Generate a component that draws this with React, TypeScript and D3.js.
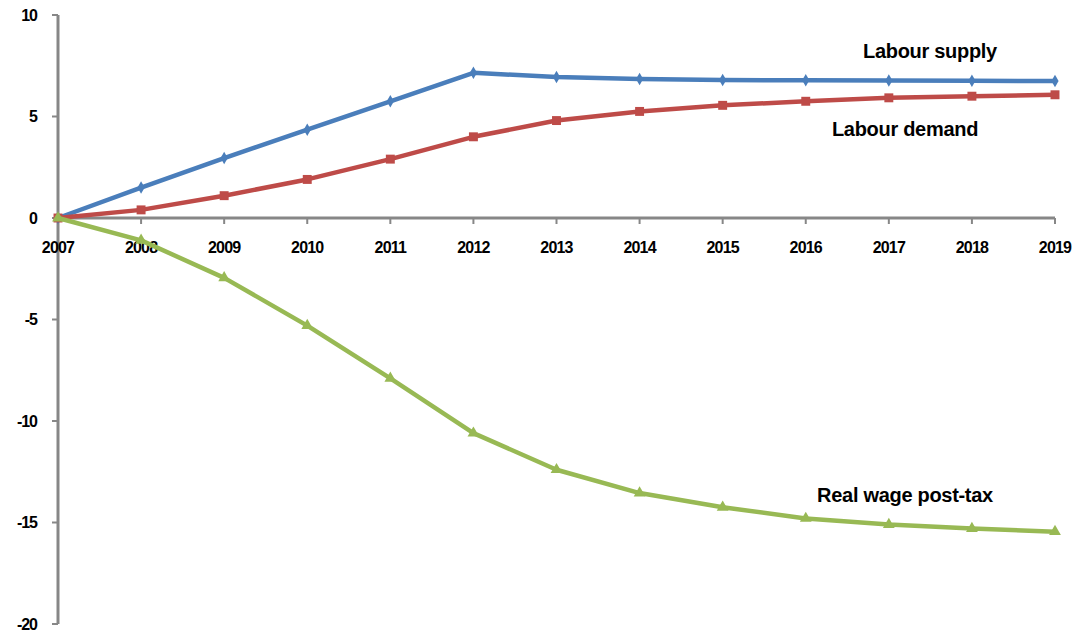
import * as d3 from 'd3';
import React, { useEffect, useRef } from 'react';

const years = [2007, 2008, 2009, 2010, 2011, 2012, 2013, 2014, 2015, 2016, 2017, 2018, 2019];
const labourSupply = [0, 1.5, 2.95, 4.35, 5.75, 7.15, 6.95, 6.85, 6.8, 6.78, 6.77, 6.76, 6.75];
const labourDemand = [0, 0.4, 1.1, 1.9, 2.9, 4.0, 4.8, 5.25, 5.55, 5.75, 5.92, 6.0, 6.07];
const realWage = [0, -1.1, -2.95, -5.3, -7.9, -10.6, -12.4, -13.55, -14.25, -14.8, -15.1, -15.3, -15.45];
const yTicks = [10, 5, 0, -5, -10, -15, -20];

const series = [
  { name: 'Labour supply', values: labourSupply, color: '#4a7ebb', marker: 'diamond', lx: 930, ly: 51 },
  { name: 'Labour demand', values: labourDemand, color: '#be4b48', marker: 'square', lx: 905, ly: 129 },
  { name: 'Real wage post-tax', values: realWage, color: '#98b954', marker: 'triangle', lx: 905, ly: 495 }
];

export default function App() {
  const svgRef = useRef<SVGSVGElement | null>(null);

  useEffect(() => {
    const width = 1080;
    const height = 636;
    const svg = d3.select(svgRef.current).attr('width', width).attr('height', height);
    svg.selectAll('*').remove();

    const x = d3.scaleLinear().domain([2007, 2019]).range([58, 1055]);
    const y = d3.scaleLinear().domain([-20, 10]).range([624, 15]);
    const font = 'Arial, "Liberation Sans", sans-serif';
    const axisColor = '#878787';

    // y axis
    svg.append('line')
      .attr('x1', x(2007)).attr('x2', x(2007))
      .attr('y1', y(10)).attr('y2', y(-20))
      .attr('stroke', axisColor).attr('stroke-width', 3);
    svg.selectAll('.ytick')
      .data(yTicks)
      .enter()
      .append('line')
      .attr('x1', x(2007) - 6).attr('x2', x(2007))
      .attr('y1', (d) => y(d)).attr('y2', (d) => y(d))
      .attr('stroke', axisColor).attr('stroke-width', 2);
    svg.selectAll('.ylabel')
      .data(yTicks)
      .enter()
      .append('text')
      .attr('x', 37)
      .attr('y', (d) => y(d))
      .attr('dy', '0.35em')
      .attr('text-anchor', 'end')
      .style('font-family', font)
      .style('font-weight', 'bold')
      .style('font-size', '16px')
      .style('letter-spacing', '-1px')
      .text((d) => d);

    // x axis
    svg.append('line')
      .attr('x1', x(2007)).attr('x2', x(2019))
      .attr('y1', y(0)).attr('y2', y(0))
      .attr('stroke', axisColor).attr('stroke-width', 3);
    svg.selectAll('.xtick')
      .data(years)
      .enter()
      .append('line')
      .attr('x1', (d) => x(d)).attr('x2', (d) => x(d))
      .attr('y1', y(0)).attr('y2', y(0) + 6)
      .attr('stroke', axisColor).attr('stroke-width', 2);
    svg.selectAll('.xlabel')
      .data(years)
      .enter()
      .append('text')
      .attr('x', (d) => x(d))
      .attr('y', y(0) + 29)
      .attr('dy', '0.35em')
      .attr('text-anchor', 'middle')
      .style('font-family', font)
      .style('font-weight', 'bold')
      .style('font-size', '16px')
      .style('letter-spacing', '-0.8px')
      .text((d) => d);

    const line = d3.line<number>()
      .x((_, i) => x(years[i]))
      .y((d) => y(d));

    series.forEach((s) => {
      const g = svg.append('g');
      g.append('path')
        .datum(s.values)
        .attr('d', line)
        .attr('fill', 'none')
        .attr('stroke', s.color)
        .attr('stroke-width', 4.5)
        .attr('stroke-linejoin', 'round');

      const symbolType =
        s.marker === 'diamond' ? d3.symbolDiamond : s.marker === 'square' ? d3.symbolSquare : d3.symbolTriangle;
      const size = s.marker === 'diamond' ? 45 : s.marker === 'square' ? 80 : 60;
      g.selectAll('path.marker')
        .data(s.values)
        .enter()
        .append('path')
        .attr('class', 'marker')
        .attr('d', d3.symbol().type(symbolType).size(size)())
        .attr('transform', (d, i) => `translate(${x(years[i])},${y(d)})`)
        .attr('fill', s.color);

      svg.append('text')
        .attr('x', s.lx)
        .attr('y', s.ly)
        .attr('dy', '0.35em')
        .attr('text-anchor', 'middle')
        .style('font-family', font)
        .style('font-weight', 'bold')
        .style('font-size', '20px')
        .style('letter-spacing', '-0.3px')
        .text(s.name);
    });
  }, []);

  return (
    <div style={{ position: 'absolute', left: 0, top: 0, background: '#fff' }}>
      <svg ref={svgRef} style={{ display: 'block' }} />
    </div>
  );
}
